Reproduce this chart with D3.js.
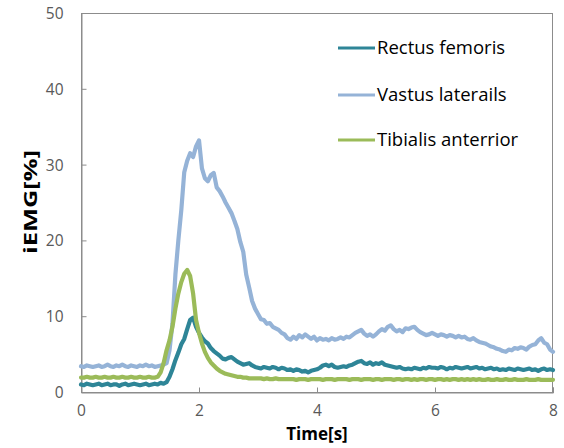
<!DOCTYPE html>
<html><head><meta charset="utf-8">
<script src="https://cdn.jsdelivr.net/npm/d3@7"></script>
<style>body{margin:0;background:#fff}svg{display:block}</style>
</head><body>
<svg id="c" width="564" height="448"></svg>
<script>
const time = [
0,0.05,0.1,0.15,0.2,0.25,0.3,0.35,0.4,0.45,
0.5,0.55,0.6,0.65,0.7,0.75,0.8,0.85,0.9,0.95,
1,1.05,1.1,1.15,1.2,1.25,1.3,1.35,1.4,1.45,
1.5,1.55,1.6,1.65,1.7,1.75,1.8,1.85,1.9,1.95,
2,2.05,2.1,2.15,2.2,2.25,2.3,2.35,2.4,2.45,
2.5,2.55,2.6,2.65,2.7,2.75,2.8,2.85,2.9,2.95,
3,3.05,3.1,3.15,3.2,3.25,3.3,3.35,3.4,3.45,
3.5,3.55,3.6,3.65,3.7,3.75,3.8,3.85,3.9,3.95,
4,4.05,4.1,4.15,4.2,4.25,4.3,4.35,4.4,4.45,
4.5,4.55,4.6,4.65,4.7,4.75,4.8,4.85,4.9,4.95,
5,5.05,5.1,5.15,5.2,5.25,5.3,5.35,5.4,5.45,
5.5,5.55,5.6,5.65,5.7,5.75,5.8,5.85,5.9,5.95,
6,6.05,6.1,6.15,6.2,6.25,6.3,6.35,6.4,6.45,
6.5,6.55,6.6,6.65,6.7,6.75,6.8,6.85,6.9,6.95,
7,7.05,7.1,7.15,7.2,7.25,7.3,7.35,7.4,7.45,
7.5,7.55,7.6,7.65,7.7,7.75,7.8,7.85,7.9,7.95,
8];

const rectusFemoris = [
1.0,0.9,1.1,1.0,0.9,1.0,1.1,0.9,1.0,1.1,
0.9,1.0,1.0,0.8,1.0,1.1,0.9,1.0,1.1,1.0,
0.9,1.0,1.1,0.9,1.0,1.1,1.0,1.2,1.1,1.3,
2.0,3.0,4.2,5.2,6.3,7.0,8.3,9.5,9.8,8.6,
7.8,7.2,6.7,6.4,5.8,5.4,5.1,4.8,4.4,4.3,
4.5,4.6,4.3,4.0,3.8,3.6,3.7,3.8,3.5,3.3,
3.2,3.1,3.3,3.2,3.1,3.3,3.2,3.0,3.2,3.1,
2.9,3.0,2.8,3.0,2.9,2.7,2.8,2.6,2.8,2.9,
3.0,3.2,3.5,3.6,3.4,3.6,3.3,3.2,3.3,3.4,
3.3,3.5,3.6,3.8,4.0,4.1,3.8,3.7,3.9,3.6,
3.8,3.7,3.9,3.6,3.5,3.4,3.3,3.2,3.3,3.1,
3.0,3.1,3.0,3.2,3.1,3.0,3.2,3.1,3.3,3.2,
3.2,3.1,3.3,3.2,3.0,3.2,3.1,3.3,3.2,3.1,
3.2,3.3,3.1,3.2,3.3,3.1,3.2,3.0,3.1,3.2,
3.0,3.1,2.9,3.0,2.9,3.1,3.0,2.9,3.1,3.0,
2.9,3.0,3.1,2.9,3.0,2.8,3.0,3.1,2.9,3.0,
2.9];

const vastusLateralis = [
3.4,3.3,3.5,3.4,3.3,3.4,3.5,3.3,3.4,3.6,
3.4,3.3,3.5,3.4,3.6,3.4,3.3,3.5,3.4,3.3,
3.5,3.4,3.6,3.4,3.5,3.3,3.4,3.5,3.6,3.8,
5.5,9.0,15.5,20.0,24.0,29.0,30.5,31.5,31.0,32.4,
33.2,29.5,28.2,27.8,28.6,28.9,27.0,26.5,25.8,25.0,
24.3,23.6,22.6,21.5,19.8,18.5,15.5,13.8,12.0,11.0,
10.3,9.6,9.5,9.0,9.1,8.6,8.4,8.2,7.8,7.6,
7.1,6.9,7.3,7.0,7.5,7.2,7.6,7.3,7.0,7.3,
6.8,7.1,6.9,7.0,6.8,7.1,6.9,7.0,7.2,7.0,
7.3,7.2,7.5,7.8,8.0,8.2,7.7,7.4,7.6,7.3,
7.6,8.0,8.3,8.1,8.6,8.8,8.3,8.0,8.2,7.9,
8.4,8.3,8.5,8.6,8.2,7.9,7.7,7.5,7.6,7.8,
7.6,7.4,7.6,7.5,7.3,7.5,7.4,7.2,7.4,7.2,
7.3,7.0,6.9,7.1,6.8,6.6,6.5,6.4,6.2,6.0,
5.9,5.7,5.6,5.4,5.3,5.6,5.5,5.8,5.7,5.9,
5.8,5.6,6.0,6.2,6.3,6.8,7.1,6.5,6.3,5.6,
5.3];

const tibialisAnterior = [
1.9,1.9,2.0,1.9,1.9,2.0,1.9,1.9,2.0,1.9,
1.9,2.0,1.9,1.9,2.0,1.9,1.9,2.0,1.9,1.9,
2.0,1.9,1.9,2.0,1.9,1.9,2.0,2.6,3.8,5.5,
6.8,8.6,11.0,13.0,14.5,15.6,16.1,15.3,13.0,9.5,
7.8,6.4,5.3,4.5,3.9,3.5,3.1,2.8,2.6,2.4,
2.3,2.2,2.1,2.0,2.0,1.9,1.9,1.8,1.8,1.8,
1.8,1.8,1.7,1.8,1.7,1.7,1.8,1.7,1.7,1.7,
1.7,1.7,1.7,1.6,1.7,1.7,1.7,1.6,1.7,1.7,
1.7,1.7,1.6,1.7,1.7,1.7,1.6,1.7,1.7,1.7,
1.7,1.6,1.7,1.7,1.7,1.6,1.7,1.7,1.7,1.6,
1.7,1.7,1.6,1.7,1.7,1.7,1.6,1.7,1.7,1.6,
1.7,1.7,1.6,1.7,1.6,1.7,1.7,1.6,1.7,1.7,
1.6,1.7,1.7,1.6,1.7,1.6,1.7,1.7,1.6,1.7,
1.6,1.7,1.6,1.7,1.6,1.7,1.6,1.6,1.7,1.6,
1.6,1.7,1.6,1.6,1.7,1.6,1.6,1.7,1.6,1.6,
1.6,1.7,1.6,1.6,1.6,1.7,1.6,1.6,1.6,1.6,
1.6];

const seriesNames = ["Rectus femoris", "Vastus laterails", "Tibialis anterrior"];
const seriesValues = [rectusFemoris, vastusLateralis, tibialisAnterior];
const seriesColors = ["#2E8597", "#95B3D7", "#9BBB59"];
const xTicks = [0, 2, 4, 6, 8];
const yTicks = [0, 10, 20, 30, 40, 50];
const xTitle = "Time[s]";
const yTitle = "iEMG[%]";

const svg = d3.select("#c");
const L = 81, R = 553, T = 13, B = 392;
const x = d3.scaleLinear().domain([0, 8]).range([L, R]);
const y = d3.scaleLinear().domain([0, 50]).range([B, T]);
const frameColor = "#8c8c8c";
const font = "'Open Sans', sans-serif";

// frame
svg.append("rect").attr("x", L + 0.5).attr("y", T + 0.5)
  .attr("width", R - L - 1).attr("height", B - T)
  .attr("fill", "none").attr("stroke", frameColor).attr("stroke-width", 1);

// axes with inward ticks
const xAxis = svg.append("g").attr("transform", `translate(0,${B + 0.5})`)
  .call(d3.axisBottom(x).tickValues(xTicks).tickSize(-5).tickPadding(12).tickFormat(d3.format("d")));
const yAxis = svg.append("g").attr("transform", `translate(${L + 0.5},0)`)
  .call(d3.axisLeft(y).tickValues(yTicks).tickSize(-5).tickPadding(18).tickFormat(d3.format("d")));
[xAxis, yAxis].forEach(g => {
  g.select(".domain").attr("stroke", frameColor);
  g.selectAll(".tick line").attr("stroke", frameColor);
  g.selectAll("text").attr("fill", "#595959").style("font-family", font).style("font-size", "15.5px");
});
yAxis.selectAll(".tick text").attr("dy", "0.36em");

// lines
const line = d3.line().x((d, i) => x(time[i])).y(d => y(d));
const g = svg.append("g");
seriesValues.forEach((vals, k) => {
  g.append("path").datum(vals).attr("d", line)
    .attr("fill", "none").attr("stroke", seriesColors[k])
    .attr("stroke-width", 4.2).attr("stroke-linejoin", "round").attr("stroke-linecap", "round");
});

// legend
const legY = [48, 95, 140];
seriesNames.forEach((n, k) => {
  svg.append("line").attr("x1", 338).attr("x2", 375).attr("y1", legY[k]).attr("y2", legY[k])
    .attr("stroke", seriesColors[k]).attr("stroke-width", 3);
  svg.append("text").attr("x", 377).attr("y", legY[k]).attr("dy", "0.35em")
    .attr("fill", "#000").style("font-family", font).style("font-size", "18.5px").text(n);
});

// titles
svg.append("text").attr("x", (L + R) / 2).attr("y", 440).attr("text-anchor", "middle")
  .attr("fill", "#000").style("font-family", font).style("font-weight", "bold").style("font-size", "17px").text(xTitle);
svg.append("text").attr("transform", "translate(37,202) rotate(-90)").attr("text-anchor", "middle")
  .attr("fill", "#000").style("font-family", font).style("font-weight", "bold").style("font-size", "18px")
  .attr("textLength", 104).attr("lengthAdjust", "spacingAndGlyphs").text(yTitle);
</script>
</body></html>
